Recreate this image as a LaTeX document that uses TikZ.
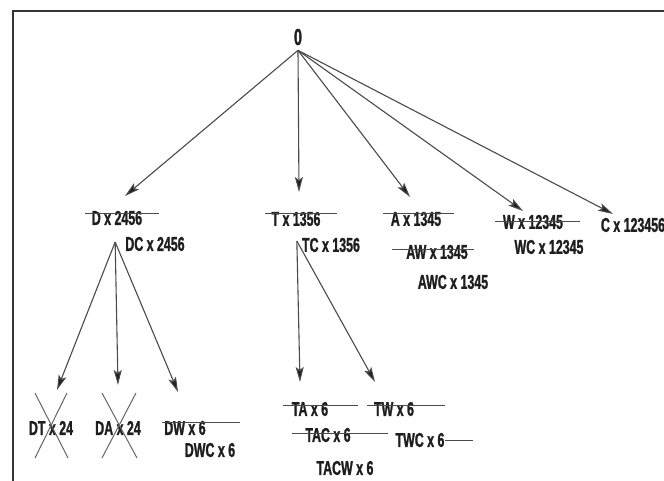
\documentclass[tikz,border=0pt]{standalone}
\usepackage{fontspec}
\setmainfont{Liberation Sans}[FakeStretch=0.62,FakeBold=1.2]
\usetikzlibrary{arrows.meta,calc}
\definecolor{ink}{HTML}{1E1E1E}
\definecolor{wire}{HTML}{4A4A4A}
\begin{document}
\begin{tikzpicture}[x=1pt,y=-1pt,
  lbl/.style={inner sep=0pt,text=ink,font=\fontsize{20}{21}\bfseries\selectfont},
  arr/.style={draw=wire,line width=1.1pt,-{Stealth[length=15pt,width=8pt,inset=3pt,fill=ink]}},
  strike/.style={draw=wire,line width=1pt},
  cross/.style={draw=gray!80!black,line width=1pt},
  frame/.style={draw=ink!90,line width=2pt}]
\useasboundingbox (0,0) rectangle (664,481);
\fill[white] (0,0) rectangle (664,481);
% frame
\draw[frame] (13,481) -- (13,11) -- (664,11);
% nodes
\node[lbl,inner sep=5pt,font=\fontsize{23}{24}\bfseries\selectfont] (root) at (298,37) {0};
\node[lbl] (d) at (117,218) {D x 2456};
\node[lbl] (dc) at (155,244) {DC x 2456};
\node[lbl] (t) at (296,219) {T x 1356};
\node[lbl] (tc) at (331,245) {TC x 1356};
\node[lbl] (a) at (416,219) {A x 1345};
\node[lbl] (aw) at (437,252) {AW x 1345};
\node[lbl] (awc) at (453,282) {AWC x 1345};
\node[lbl] (w) at (533,222) {W x 12345};
\node[lbl] (wc) at (549,247) {WC x 12345};
\node[lbl] (c) at (633,225) {C x 123456};
\node[lbl] (dt) at (51,428) {DT x 24};
\node[lbl] (da) at (118,428) {DA x 24};
\node[lbl] (dw) at (185,428) {DW x 6};
\node[lbl] (dwc) at (210,450) {DWC x 6};
\node[lbl] (ta) at (310,409) {TA x 6};
\node[lbl] (tw) at (394,409) {TW x 6};
\node[lbl] (tac) at (328,435) {TAC x 6};
\node[lbl] (twc) at (420,440) {TWC x 6};
\node[lbl] (tacw) at (345,468) {TACW x 6};
\coordinate (dcfork) at ([xshift=-10pt,yshift=2pt]dc.west);
\coordinate (tcfork) at ([xshift=-5pt,yshift=4pt]tc.west);
% arrows from root
\draw[arr] (root.south) -- ([xshift=8pt,yshift=22pt]d.center);
\draw[arr] (root.south) -- ([xshift=3pt,yshift=27pt]t.center);
\draw[arr] (root.south) -- ([xshift=-6pt,yshift=22pt]a.center);
\draw[arr] (root.south) -- ([xshift=-10pt,yshift=11pt]w.center);
\draw[arr] (root.south) -- ([xshift=-20pt,yshift=11pt]c.center);
% arrows from DC
\draw[arr] (dcfork) -- ([xshift=6pt,yshift=38pt]dt.center);
\draw[arr] (dcfork) -- ([xshift=0pt,yshift=43pt]da.center);
\draw[arr] (dcfork) -- ([xshift=-7pt,yshift=36pt]dw.center);
% arrows from TC
\draw[arr] (tcfork) -- ([xshift=-10pt,yshift=27pt]ta.center);
\draw[arr] (tcfork) -- ([xshift=-19pt,yshift=27pt]tw.center);
% strike lines
\draw[strike] (85,214) -- (159,214);
\draw[strike] (265,214) -- (337,214);
\draw[strike] (383,214) -- (454,214);
\draw[strike] (392,250) -- (474,250);
\draw[strike] (495,222) -- (580,222);
\draw[strike] (162,422) -- (240,422);
\draw[strike] (283,405) -- (358,405);
\draw[strike] (367,405) -- (445,405);
\draw[strike] (292,433) -- (388,433);
\draw[strike] (twc.east) -- (473,440);
% crosses
\draw[cross] (35,393) -- (68,458);
\draw[cross] (67,393) -- (35,458);
\draw[cross] (102,393) -- (137,458);
\draw[cross] (136,393) -- (102,458);
\end{tikzpicture}
\end{document}
